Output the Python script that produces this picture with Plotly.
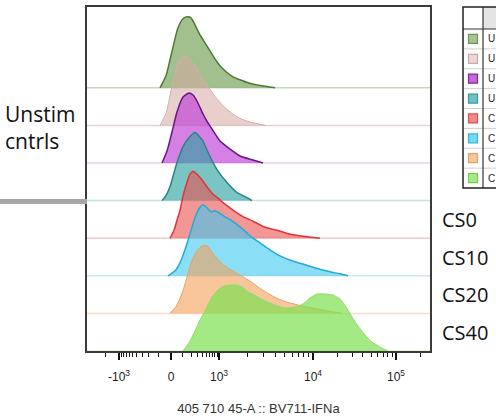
import numpy as np
import plotly.graph_objects as go

# ---------------- data ----------------
SAMPLES = ["Unstim 1", "Unstim 2", "Unstim 3", "Unstim 4", "CS0", "CS10", "CS20", "CS40"]
TABLE_TEXT = ["U", "U", "U", "U", "C", "C", "C", "C"]   # visible (cropped) part of the sample table

# histogram bins in display (biexponential) channel units, and normalized counts
U1_X = [73, 79, 83, 87, 91, 96, 100, 104, 108, 113, 118, 123, 128, 133, 139, 146, 153, 161, 169, 178, 188]
U1_H = [0, 12, 28, 45, 60, 69, 71, 70, 63, 53, 45, 37, 29, 22, 16, 11, 8, 5, 3, 1.5, 0]

U2_X = [73, 79, 83, 87, 91, 95, 99, 103, 108, 113, 118, 123, 128, 133, 139, 145, 153, 161, 169, 178]
U2_H = [0, 12, 30, 48, 62, 68, 69, 66, 59, 51, 43, 36, 29, 23, 17, 12, 7, 4, 2, 0]

U3_X = [75, 80, 85, 90, 96, 102, 106, 110, 116, 121, 125, 133, 143, 153, 166, 176]
U3_H = [0, 12, 31, 51, 66, 70, 68, 62, 49, 40, 34, 22, 14, 7, 3, 0]

U4_X = [75, 79, 83, 90, 96, 103, 108, 115, 123, 130, 140, 150, 160, 165]
U4_H = [0, 5, 14, 38, 54, 64, 68, 61, 44, 31, 18, 8, 3, 0]

CS0_X = [83, 87, 90, 93, 96, 100, 103, 106, 111, 116, 121, 126, 131, 138, 146, 155, 166, 178, 190, 203, 216, 233]
CS0_H = [0, 8, 18, 28, 42, 56, 64, 67, 63, 57, 50, 44, 40, 34, 28, 22, 17, 11, 8, 4, 2, 0]

CS10_X = [81, 88, 93, 98, 103, 108, 112, 116, 120, 124, 128, 132, 138, 145, 153, 163, 173, 183, 193, 205, 218, 231, 243, 253, 261]
CS10_H = [0, 5, 13, 26, 42, 58, 67, 71, 68, 64, 65, 63, 59, 55, 49, 40, 33, 26, 20, 15, 11, 7, 4, 2, 0]

CS20_X = [83, 89, 93, 97, 101, 105, 109, 113, 117, 121, 125, 130, 136, 143, 150, 157, 165, 173, 181, 190, 201, 213, 228, 243, 255]
CS20_H = [0, 7, 15, 26, 40, 53, 61, 66, 68, 67, 61, 55, 49, 44, 40, 36, 31, 25, 20, 15, 11, 8, 5, 2, 0]

CS40_X = [96, 103, 108, 113, 119, 125, 131, 137, 143, 149, 155, 161, 169, 178, 188, 198, 208, 216, 223, 230,
          238, 246, 253, 259, 265, 271, 278, 285, 293, 301]
CS40_H = [0, 10, 20, 31, 42, 54, 61, 65, 66, 66, 64, 59, 55, 50, 46, 43, 44, 47, 53, 57,
          57, 56, 52, 44, 34, 25, 16, 9, 4, 0]

# axis: biexponential display scale anchors and tick labels
TICK_VALUES = [-1000, 0, 1000, 10000, 100000]
TICK_LABELS = ["-10<sup>3</sup>", "0", "10<sup>3</sup>", "10<sup>4</sup>", "10<sup>5</sup>"]
TICK_DISPLAY = [32, 84, 132, 226, 309]
MINOR_VALUES = ([-2000] + [-v for v in range(900, 0, -100)] + list(range(100, 1000, 100))
                + list(range(2000, 10000, 1000)) + list(range(20000, 100000, 10000)) + [200000])
AXIS_TITLE = "405 710 45-A :: BV711-IFNa"

# ---------------- styles ----------------
FILL = ["rgba(118,160,88,0.68)", "rgba(214,168,162,0.55)", "rgba(190,60,215,0.65)", "rgba(40,160,160,0.62)",
        "rgba(235,80,80,0.6)", "rgba(60,200,240,0.6)", "rgba(245,160,90,0.6)", "rgba(125,225,80,0.7)"]
LINE = ["#4d7a35", "#d2b0ab", "#6a1585", "#2a8585", "#e03535", "#25aad5", "#eba060", "#8fdc6a"]
LINE_W = [1.5, 1.0, 1.5, 1.5, 1.5, 1.5, 1.0, 1.0]
BASE = ["#c9d6c0", "#e2d3d1", "#ead0f0", "#c6e2e2", "#f0cccc", "#c8e9f2", "#f6e0cc", "#d8f2cc"]
SWATCH = ["#a9c494", "#ecd6d3", "#c865dc", "#6cc2c4", "#f08a8a", "#72dbf2", "#f6c698", "#a6ec86"]
SWATCH_LINE = ["#6f9455", "#c9a9a5", "#7a2a9a", "#3a9a9a", "#d85050", "#3ab6d8", "#e0a468", "#78cc50"]

W, H = 496, 420
PL, PR, PT, PB = 87, 430, 7, 351
ROW_PX = 37.6
SCALE = 1.0 / ROW_PX
Y_TOP = (PB - PT) / ROW_PX
X_MAX = PR - PL

def px_x(px):
    return (px - PL) / (PR - PL)

def px_y(py):
    return (PB - py) / (PB - PT)

# biexponential-like mapping through anchors (asinh space, linear extrapolation)
def to_display(v):
    t = np.arcsinh(np.asarray(v, dtype=float) / 150.0)
    at = np.arcsinh(np.array(TICK_VALUES, dtype=float) / 150.0)
    ap = np.array(TICK_DISPLAY, dtype=float)
    out = np.interp(t, at, ap)
    lo = t < at[0]
    out = np.where(lo, ap[0] + (t - at[0]) * (ap[1] - ap[0]) / (at[1] - at[0]), out)
    hi = t > at[-1]
    out = np.where(hi, ap[-1] + (t - at[-1]) * (ap[-1] - ap[-2]) / (at[-1] - at[-2]), out)
    return out

XS = [U1_X, U2_X, U3_X, U4_X, CS0_X, CS10_X, CS20_X, CS40_X]
HS = [U1_H, U2_H, U3_H, U4_H, CS0_H, CS10_H, CS20_H, CS40_H]
N = len(SAMPLES)

fig = go.Figure()
shapes = []
for i in range(N):
    off = N - 1 - i
    y = [off + h * SCALE for h in HS[i]]
    fig.add_trace(go.Scatter(
        x=XS[i], y=y, mode="lines", fill="toself", fillcolor=FILL[i],
        line=dict(color=LINE[i], width=LINE_W[i], shape="spline", smoothing=0.6),
        name=SAMPLES[i], showlegend=False, hoverinfo="name"))
    shapes.append(dict(type="line", xref="x domain", yref="y", x0=0, x1=1, y0=off, y1=off,
                       line=dict(color=BASE[i], width=1.5), layer="below"))

# gray separator bar at left
shapes.append(dict(type="rect", xref="paper", yref="paper", x0=px_x(0), x1=px_x(PL),
                   y0=px_y(204), y1=px_y(199), line=dict(width=0), fillcolor="#a6a6a6"))

# legend table (top right)
T_L, T_R, T_T, T_B, T_DIV, T_HEAD = 463, 500, 7, 188, 483, 29
shapes.append(dict(type="rect", xref="paper", yref="paper", x0=px_x(T_DIV), x1=px_x(T_R),
                   y0=px_y(T_HEAD), y1=px_y(T_T), line=dict(width=0), fillcolor="#e4e4e4"))
row_h = (T_B - T_HEAD) / N
for r in range(1, N):
    yy = T_HEAD + r * row_h
    shapes.append(dict(type="line", xref="paper", yref="paper", x0=px_x(T_L), x1=px_x(T_R),
                       y0=px_y(yy), y1=px_y(yy), line=dict(color="#d0d0d0", width=1)))
shapes.append(dict(type="line", xref="paper", yref="paper", x0=px_x(T_L), x1=px_x(T_R),
                   y0=px_y(T_HEAD), y1=px_y(T_HEAD), line=dict(color="#333333", width=1.2)))
shapes.append(dict(type="line", xref="paper", yref="paper", x0=px_x(T_DIV), x1=px_x(T_DIV),
                   y0=px_y(T_B), y1=px_y(T_T), line=dict(color="#333333", width=1.2)))
shapes.append(dict(type="rect", xref="paper", yref="paper", x0=px_x(T_L), x1=px_x(T_R),
                   y0=px_y(T_B), y1=px_y(T_T), line=dict(color="#222222", width=1.5)))

annotations = []
for i in range(N):
    cy = T_HEAD + (i + 0.5) * row_h
    shapes.append(dict(type="rect", xref="paper", yref="paper", x0=px_x(468.5), x1=px_x(477.5),
                       y0=px_y(cy + 4.5), y1=px_y(cy - 4.5), fillcolor=SWATCH[i],
                       line=dict(color=SWATCH_LINE[i], width=1.2)))
    annotations.append(dict(xref="paper", yref="paper", x=px_x(486), y=px_y(cy), text=TABLE_TEXT[i],
                            showarrow=False, xanchor="left", yanchor="middle",
                            font=dict(family="Liberation Sans", size=10, color="#222")))

# side labels
LEFT_LABELS = [("Unstim", 114), ("cntrls", 141)]
for txt, cy in LEFT_LABELS:
    annotations.append(dict(xref="paper", yref="paper", x=px_x(3), y=px_y(cy), text=txt,
                            showarrow=False, xanchor="left", yanchor="middle",
                            font=dict(family="Open Sans", size=21, color="#111")))
RIGHT_LABELS = ["CS0", "CS10", "CS20", "CS40"]
for k, txt in enumerate(RIGHT_LABELS):
    off = 3 - k
    annotations.append(dict(xref="paper", yref="y", x=px_x(440), y=off + 0.5, text=txt,
                            showarrow=False, xanchor="left", yanchor="middle",
                            font=dict(family="Open Sans", size=20, color="#111")))

fig.update_layout(
    width=W, height=H, margin=dict(l=PL, r=W - PR, t=PT, b=H - PB),
    paper_bgcolor="white", plot_bgcolor="white", showlegend=False,
    shapes=shapes, annotations=annotations,
    xaxis=dict(range=[0, X_MAX], showgrid=False, zeroline=False, automargin=False,
               showline=True, linecolor="#3a3a3a", linewidth=1.5, mirror=True,
               tickmode="array", tickvals=list(to_display(TICK_VALUES)), ticktext=TICK_LABELS,
               ticks="outside", ticklen=7, tickwidth=1.5, tickcolor="#111",
               ticklabelstandoff=7,
               tickfont=dict(family="Liberation Sans", size=12, color="#222"),
               minor=dict(tickmode="array", tickvals=list(to_display(MINOR_VALUES)),
                          ticks="outside", ticklen=4, tickwidth=1, tickcolor="#111", showgrid=False),
               title=dict(text=AXIS_TITLE, standoff=21,
                          font=dict(family="Liberation Sans", size=13, color="#333"))),
    yaxis=dict(range=[0, Y_TOP], showgrid=False, zeroline=False, showticklabels=False, ticks="",
               automargin=False,
               showline=True, linecolor="#3a3a3a", linewidth=1.5, mirror=True),
)

fig.write_html("out.html")
